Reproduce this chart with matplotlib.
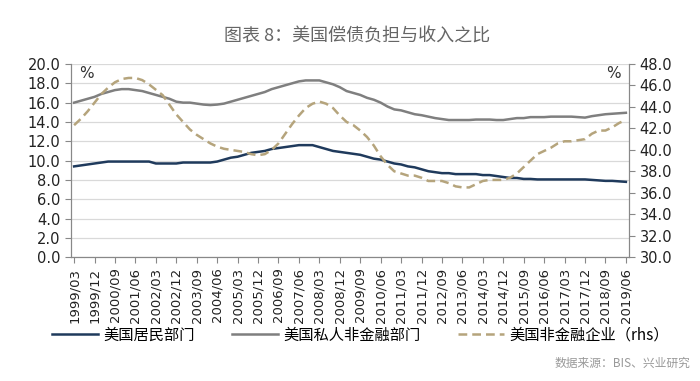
import matplotlib.pyplot as plt
import numpy as np

plt.rcParams['font.family'] = ['DejaVu Sans', 'Noto Sans CJK SC']

# quarterly labels 1999/03 .. 2019/06
quarters = [f"{y}/{m:02d}" for y in range(1999, 2020) for m in (3, 6, 9, 12)][:82]

# 美国居民部门 (lhs)
household = [9.4, 9.5, 9.6, 9.7, 9.8, 9.9, 9.9, 9.9, 9.9, 9.9, 9.9, 9.9,
             9.7, 9.7, 9.7, 9.7, 9.8, 9.8, 9.8, 9.8, 9.8, 9.9, 10.1, 10.3,
             10.4, 10.6, 10.8, 10.9, 11.0, 11.2, 11.3, 11.4, 11.5, 11.6, 11.6, 11.6,
             11.4, 11.2, 11.0, 10.9, 10.8, 10.7, 10.6, 10.4, 10.2, 10.1, 9.9, 9.7,
             9.6, 9.4, 9.3, 9.1, 8.9, 8.8, 8.7, 8.7, 8.6, 8.6, 8.6, 8.6,
             8.5, 8.5, 8.4, 8.3, 8.2, 8.2, 8.1, 8.1, 8.05, 8.05, 8.05, 8.05,
             8.05, 8.05, 8.05, 8.05, 8.0, 7.95, 7.9, 7.9, 7.85, 7.8]

# 美国私人非金融部门 (lhs)
private = [16.0, 16.2, 16.4, 16.6, 16.9, 17.1, 17.3, 17.4, 17.4, 17.3, 17.2, 17.0,
           16.8, 16.6, 16.4, 16.1, 16.0, 16.0, 15.9, 15.8, 15.75, 15.8, 15.9, 16.1,
           16.3, 16.5, 16.7, 16.9, 17.1, 17.4, 17.6, 17.8, 18.0, 18.2, 18.3, 18.3,
           18.3, 18.1, 17.9, 17.6, 17.2, 17.0, 16.8, 16.5, 16.3, 16.0, 15.6, 15.3,
           15.2, 15.0, 14.8, 14.7, 14.55, 14.4, 14.3, 14.2, 14.2, 14.2, 14.2, 14.25,
           14.25, 14.25, 14.2, 14.2, 14.3, 14.4, 14.4, 14.5, 14.5, 14.5, 14.55, 14.55,
           14.55, 14.55, 14.5, 14.45, 14.6, 14.7, 14.8, 14.85, 14.9, 14.95]

# 美国非金融企业 (rhs)
corporate = [42.3, 42.9, 43.6, 44.4, 45.2, 45.8, 46.3, 46.6, 46.7, 46.7, 46.5, 46.1,
             45.6, 45.1, 44.2, 43.3, 42.6, 41.9, 41.4, 41.0, 40.6, 40.3, 40.1, 40.0,
             39.9, 39.8, 39.6, 39.5, 39.6, 40.0, 40.6, 41.5, 42.4, 43.2, 43.9, 44.3,
             44.5, 44.3, 43.9, 43.2, 42.6, 42.3, 41.8, 41.2, 40.4, 39.4, 38.6, 38.0,
             37.8, 37.6, 37.6, 37.4, 37.1, 37.1, 37.1, 36.9, 36.6, 36.5, 36.5, 36.8,
             37.1, 37.2, 37.2, 37.2, 37.4, 37.8, 38.4, 39.0, 39.6, 39.9, 40.2, 40.6,
             40.8, 40.8, 40.9, 41.0, 41.5, 41.8, 41.8, 42.1, 42.5, 42.8]

x = np.arange(len(quarters))

fig = plt.figure(figsize=(7, 3.81), dpi=100)
ax = fig.add_axes([0.101, 0.325, 0.798, 0.507])
ax2 = ax.twinx()

l1, = ax.plot(x, household, color='#1f3a5c', lw=1.8, label='美国居民部门')
l2, = ax.plot(x, private, color='#7f7f7f', lw=1.8, label='美国私人非金融部门')
l3, = ax2.plot(x, corporate, color='#b5a47c', lw=1.8, ls=(0, (3.5, 2)),
               label='美国非金融企业（rhs）')

ax.set_xlim(-0.5, len(x) - 0.5)
ax.set_ylim(0, 20)
ax.set_yticks(np.arange(0, 20.1, 2))
ax.set_yticklabels([f"{v:.1f}" for v in np.arange(0, 20.1, 2)])
ax2.set_ylim(30, 48)
ax2.set_yticks(np.arange(30, 48.1, 2))
ax2.set_yticklabels([f"{v:.1f}" for v in np.arange(30, 48.1, 2)])

ax.set_xticks(x[::3])
ax.set_xticklabels(quarters[::3], rotation=90, fontsize=9.5, color='#222222')
ax.tick_params(axis='y', labelsize=10.5, colors='#222222', length=4, color='#888888')
ax2.tick_params(axis='y', labelsize=10.5, colors='#222222', length=4, color='#888888')
ax.tick_params(axis='x', length=4, color='#888888')

ax.grid(axis='y', color='#d9d9d9', lw=0.9)
ax.set_axisbelow(True)
for a in (ax, ax2):
    a.spines['top'].set_visible(False)
    for s in ('left', 'right', 'bottom'):
        a.spines[s].set_color('#888888')

ax.text(0.015, 0.93, '%', transform=ax.transAxes, fontsize=11, color='#333333')
ax.text(0.985, 0.93, '%', transform=ax.transAxes, fontsize=11, color='#333333', ha='right')

fig.text(0.51, 0.905, '图表 8：美国偿债负担与收入之比', ha='center', va='center',
         fontsize=13, color='#666666', family=['Noto Sans CJK SC', 'DejaVu Sans'])

fig.legend(handles=[l1, l2, l3], loc='center', bbox_to_anchor=(0.515, 0.12), ncol=3,
           frameon=False, handlelength=3, handletextpad=0.4, columnspacing=2.4,
           prop={'family': ['Noto Sans CJK SC', 'DejaVu Sans'], 'size': 11})

fig.text(0.986, 0.047, '数据来源：BIS、兴业研究', ha='right', va='center',
         fontsize=8.5, color='#999999', family=['Noto Sans CJK SC', 'DejaVu Sans'])

plt.savefig('out.png', dpi=100)
